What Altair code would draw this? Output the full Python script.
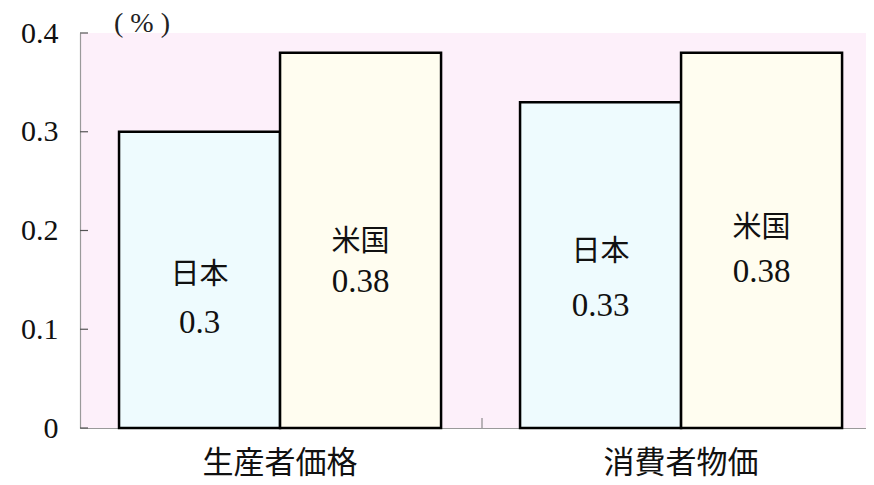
import altair as alt
import pandas as pd

# ---- data ----
groups = ["生産者価格", "生産者価格", "消費者物価", "消費者物価"]
countries = ["日本", "米国", "日本", "米国"]
values = [0.30, 0.38, 0.33, 0.38]
# label anchor heights (in data units) for the in-bar texts
name_y = [0.155, 0.188, 0.178, 0.203]
value_y = [0.106, 0.148, 0.124, 0.158]

group_order = ["生産者価格", "消費者物価"]
country_order = ["日本", "米国"]
tick_values = [0, 0.1, 0.2, 0.3, 0.4]
unit_label = ["( % )"]

df = pd.DataFrame({
    "group": groups,
    "country": countries,
    "value": values,
    "name_y": name_y,
    "value_y": value_y,
})
ticks_df = pd.DataFrame({"t": tick_values})
one = pd.DataFrame({"a": [0]})
unit_df = pd.DataFrame({"label": unit_label})

FONT = "'Liberation Serif', 'DejaVu Serif', 'Noto Sans CJK JP', serif"
PLOT_W = 786
PLOT_H = 395

xenc = alt.X(
    "group:N",
    sort=group_order,
    title=None,
    scale=alt.Scale(paddingInner=0.197, paddingOuter=0.0785, align=0.62),
    axis=alt.Axis(
        labelFont=FONT, labelFontSize=31, labelColor="#111", labelPadding=20,
        ticks=False, domainColor="#9a9a9a", domainWidth=1.2, labelAngle=0,
    ),
)
xoff = alt.XOffset("country:N", sort=country_order,
                   scale=alt.Scale(paddingInner=0, paddingOuter=0))

bars = alt.Chart(df).mark_bar(stroke="black", strokeWidth=2.5).encode(
    x=xenc,
    xOffset=xoff,
    y=alt.Y(
        "value:Q",
        title=None,
        scale=alt.Scale(domain=[0, 0.4]),
        axis=alt.Axis(
            values=tick_values, format=".1~f", ticks=False, grid=False,
            labelFont=FONT, labelFontSize=30, labelColor="#111",
            labelPadding=22, domainColor="#9a9a9a", domainWidth=1.2,
        ),
    ),
    color=alt.Color(
        "country:N",
        scale=alt.Scale(domain=country_order, range=["#eefbfe", "#fffdf0"]),
        legend=None,
    ),
)

names = alt.Chart(df).mark_text(
    font=FONT, fontSize=29, baseline="middle", align="center", color="#111"
).encode(
    x=alt.X("group:N", sort=group_order),
    xOffset=xoff,
    y=alt.Y("name_y:Q"),
    text="country:N",
)

nums = alt.Chart(df).mark_text(
    font=FONT, fontSize=33, baseline="middle", align="center", color="#111"
).encode(
    x=alt.X("group:N", sort=group_order),
    xOffset=xoff,
    y=alt.Y("value_y:Q"),
    text=alt.Text("value:Q", format="~g"),
)

yticks = alt.Chart(ticks_df).mark_rule(color="#555", strokeWidth=1.2).encode(
    y=alt.Y("t:Q"),
    x=alt.value(0),
    x2=alt.value(8),
)

mid_tick = alt.Chart(one).mark_rule(color="#777", strokeWidth=1).encode(
    x=alt.value(402),
    y=alt.value(PLOT_H - 10),
    y2=alt.value(PLOT_H),
)

unit = alt.Chart(unit_df).mark_text(
    font=FONT, fontSize=28, baseline="middle", align="center", color="#222"
).encode(
    x=alt.value(62),
    y=alt.value(-9),
    text="label:N",
)

chart = alt.layer(bars, names, nums, yticks, mid_tick, unit).properties(
    width=PLOT_W,
    height=PLOT_H,
    autosize=alt.AutoSizeParams(type="none"),
    padding={"left": 72, "top": 25, "right": 0, "bottom": 50},
    background="white",
).configure_view(
    fill="#fdf0fa", stroke=None
)

chart.save("out.html", embed_options={"renderer": "svg", "actions": False})
